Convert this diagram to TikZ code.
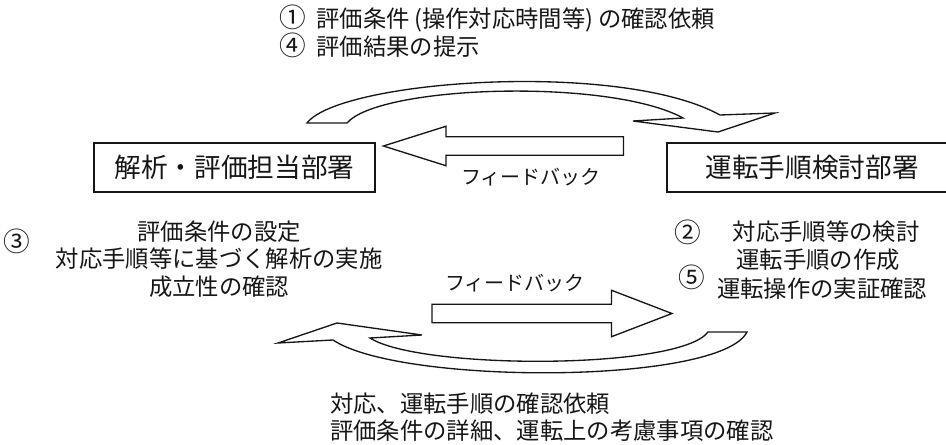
\documentclass[tikz,border=0pt]{standalone}
\usepackage{fontspec}
\usepackage{tikz}
\usetikzlibrary{shapes.arrows}
\newfontfamily\jpfont{Noto Sans CJK JP}
\definecolor{ink}{HTML}{161616}
\newcommand{\bignum}[1]{{\fontsize{20}{21}\selectfont #1}}

\begin{document}
\begin{tikzpicture}[x=0.75pt,y=-0.75pt,font=\jpfont\fontsize{17.5}{21}\selectfont,
  dept/.style={draw=ink,line width=1pt,minimum height=36.75pt,inner sep=0pt,text=ink,font=\jpfont\fontsize{20}{24}\selectfont},
  fbarrow/.style={single arrow,draw=ink,fill=white,line width=1pt,inner xsep=0pt,inner ysep=6.4pt},
  loopband/.style={draw=ink,fill=white,line width=1pt,line join=miter},
  note/.style={text=ink,inner sep=0pt},
  fbnote/.style={text=ink,inner sep=0pt,font=\jpfont\fontsize{15}{18}\selectfont}]
\useasboundingbox (0,0) rectangle (946,445);
\node[dept,minimum width=210.75pt] (ana) at (234.5,167.5) {解析・評価担当部署};
\node[dept,minimum width=217.5pt] (ope) at (812,167.5) {運転手順検討部署};
\node[note,anchor=west] (req1) at (279,19) {\bignum{①}\hspace{0.45em}評価条件\hspace{0.2em}(操作対応時間等)\hspace{0.2em}の確認依頼};
\node[note,anchor=west] (req4) at (279,45) {\bignum{④}\hspace{0.45em}評価結果の提示};
\coordinate (upA) at (307,123); \coordinate (upB) at (347,123);
\coordinate (upTip) at (718,132);
\draw[loopband] (upA) .. controls (340,80) and (620,60) .. (720,115) -- (775,113) -- (upTip) -- (633,121) -- (683,118) .. controls (610,78) and (380,85) .. (upB) -- cycle;
\node[fbarrow,shape border rotate=180,minimum height=180pt,single arrow head extend=7.9pt,single arrow tip angle=35] (fbleft) at (518,146) {};
\node[fbnote] (fbleftlab) at (531,177) {フィードバック};
\node[note] (no3) at (17,241) {\bignum{③}};
\node[note] (cond1) at (219,232) {評価条件の設定};
\node[note] (cond2) at (219,259) {対応手順等に基づく解析の実施};
\node[note] (cond3) at (219,287) {成立性の確認};
\node[note] (no2) at (688,232) {\bignum{②}};
\node[note] (proc1) at (826,232) {対応手順等の検討};
\node[note] (proc2) at (818,260) {運転手順の作成};
\node[note] (no5) at (692,277) {\bignum{⑤}};
\node[note] (proc3) at (822,289) {運転操作の実証確認};
\node[fbnote] (fbrightlab) at (515,283) {フィードバック};
\node[fbarrow,minimum height=180pt,single arrow head extend=10.5pt,single arrow tip angle=42] (fbright) at (540,313.5) {};
\coordinate (dnA) at (747,332); \coordinate (dnB) at (708,332);
\coordinate (dnTip) at (337,323);
\draw[loopband] (dnA) .. controls (720,385) and (400,385) .. (333,340) -- (278,343) -- (dnTip) -- (422,335) -- (370,338) .. controls (420,370) and (680,370) .. (dnB) -- cycle;
\node[note,anchor=west] (ask1) at (330,404) {対応、運転手順の確認依頼};
\node[note,anchor=west] (ask2) at (330,431) {評価条件の詳細、運転上の考慮事項の確認};
\end{tikzpicture}
\end{document}
